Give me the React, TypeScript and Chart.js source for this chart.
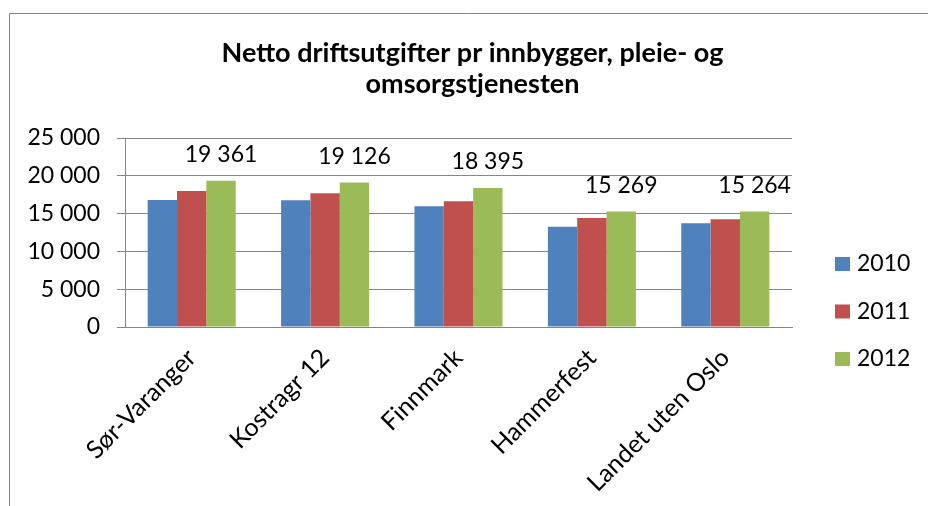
import React, { useEffect, useRef } from 'react';
import { Chart, registerables } from 'chart.js';

Chart.register(...registerables);

const categories = ['Sør-Varanger', 'Kostragr 12', 'Finnmark', 'Hammerfest', 'Landet uten Oslo'];
const seriesLabels = ['2010', '2011', '2012'];
const values2010 = [16800, 16760, 15970, 13260, 13710];
const values2011 = [18000, 17690, 16630, 14420, 14240];
const values2012 = [19361, 19126, 18395, 15269, 15264];
const seriesColors = ['#4F81BD', '#C0504D', '#9BBB59'];
const yMin = 0;
const yMax = 25000;
const yStep = 5000;
const titleLines = ['Netto driftsutgifter pr innbygger, pleie- og', 'omsorgstjenesten'];

const FONT = 'Lato';
const GRID = '#868686';

const fmt = (v: number) => String(Math.round(v)).replace(/\B(?=(\d{3})+(?!\d))/g, ' ');

const framePlugin = {
  id: 'frame',
  beforeDraw(chart: any) {
    const ctx = chart.ctx;
    ctx.save();
    ctx.fillStyle = '#ffffff';
    ctx.fillRect(0, 0, chart.width, chart.height);
    ctx.strokeStyle = GRID;
    ctx.lineWidth = 1;
    ctx.beginPath();
    ctx.moveTo(9.5, chart.height);
    ctx.lineTo(9.5, 13.5);
    ctx.lineTo(chart.width, 13.5);
    ctx.stroke();
    ctx.restore();
  },
};

const titlePlugin = {
  id: 'customTitle',
  afterDraw(chart: any) {
    const ctx = chart.ctx;
    ctx.save();
    ctx.fillStyle = '#000';
    ctx.font = `bold 27px ${FONT}`;
    ctx.textAlign = 'center';
    ctx.textBaseline = 'alphabetic';
    ctx.fillText(titleLines[0], 472.5, 62);
    ctx.fillText(titleLines[1], 472.5, 93);
    ctx.restore();
  },
};

const legendPlugin = {
  id: 'customLegend',
  afterDraw(chart: any) {
    const ctx = chart.ctx;
    ctx.save();
    ctx.font = `23px ${FONT}`;
    ctx.textBaseline = 'middle';
    ctx.textAlign = 'left';
    chart.data.datasets.forEach((ds: any, i: number) => {
      const y = 257 + 47.5 * i;
      ctx.fillStyle = ds.backgroundColor;
      ctx.fillRect(835, y, 15, 14);
      ctx.fillStyle = '#000';
      ctx.fillText(ds.label, 857, y + 7);
    });
    ctx.restore();
  },
};

const dataLabelPlugin = {
  id: 'dataLabels',
  afterDatasetsDraw(chart: any) {
    const ctx = chart.ctx;
    const idx = 2;
    const meta = chart.getDatasetMeta(idx);
    const data = chart.data.datasets[idx].data;
    ctx.save();
    ctx.font = `23px ${FONT}`;
    ctx.fillStyle = '#000';
    ctx.textAlign = 'center';
    ctx.textBaseline = 'middle';
    meta.data.forEach((el: any, j: number) => {
      ctx.fillText(fmt(data[j]), el.x, el.y - 26);
    });
    ctx.restore();
  },
};

export default function App() {
  const ref = useRef<HTMLCanvasElement | null>(null);

  useEffect(() => {
    if (!ref.current) return;
    const chart = new Chart(ref.current, {
      type: 'bar',
      data: {
        labels: categories,
        datasets: [values2010, values2011, values2012].map((vals, i) => ({
          label: seriesLabels[i],
          data: vals,
          backgroundColor: seriesColors[i],
          borderWidth: 0,
          categoryPercentage: 0.66,
          barPercentage: 1.0,
        })),
      },
      options: {
        animation: false,
        responsive: true,
        maintainAspectRatio: false,
        layout: { padding: { top: 138, left: 0, right: 136, bottom: 0 } },
        plugins: {
          legend: { display: false },
          title: { display: false },
          tooltip: { enabled: false },
        },
        scales: {
          x: {
            grid: { display: false },
            border: { display: true, color: GRID },
            ticks: {
              autoSkip: false,
              maxRotation: 45,
              minRotation: 45,
              color: '#000',
              font: { family: FONT, size: 25 },
              padding: 8,
            },
            afterFit: (s: any) => { s.height = 179; },
          },
          y: {
            min: yMin,
            max: yMax,
            grid: { color: GRID, tickLength: 8, drawTicks: true },
            border: { display: true, color: GRID },
            ticks: {
              stepSize: yStep,
              color: '#000',
              font: { family: FONT, size: 23 },
              padding: 17,
              callback: (v: any) => fmt(Number(v)),
            },
            afterFit: (s: any) => { s.width = 125; },
          },
        },
      },
      plugins: [framePlugin, titlePlugin, legendPlugin, dataLabelPlugin],
    });
    return () => chart.destroy();
  }, []);

  return (
    <div style={{ position: 'fixed', left: 0, top: 0, width: 928, height: 506, background: '#fff' }}>
      <canvas ref={ref} />
    </div>
  );
}
